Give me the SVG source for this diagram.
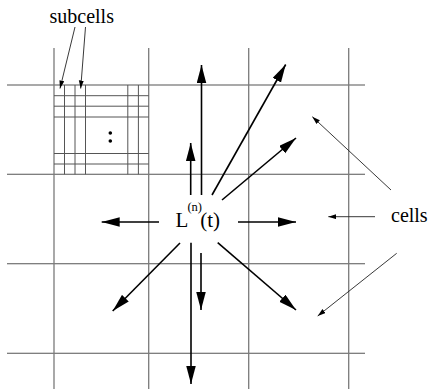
<svg xmlns="http://www.w3.org/2000/svg" width="428" height="389" viewBox="0 0 428 389">
<style>
.grid line{stroke:#555;stroke-width:1.1;fill:none}
.grid line.v{stroke:#7a7a7a;stroke-width:1.3}
.sub line{stroke:#555;stroke-width:1;fill:none}
text{font-family:'Liberation Serif',serif;fill:#000}
.big{stroke:#000;stroke-width:1.6;fill:none;marker-end:url(#bigHead)}
.thin{stroke:#222;stroke-width:0.9;fill:none;marker-end:url(#thinHead)}
</style>
<defs>
<marker id="bigHead" markerUnits="userSpaceOnUse" markerWidth="19" markerHeight="10" refX="18" refY="4.75" orient="auto">
<path d="M0,0 L18,4.75 L0,9.5 Z" fill="#000"/>
</marker>
<marker id="thinHead" markerUnits="userSpaceOnUse" markerWidth="9" markerHeight="6" refX="8" refY="2.5" orient="auto">
<path d="M0,0 L8,2.5 L0,5 Z" fill="#000"/>
</marker>
</defs>
<rect width="428" height="389" fill="#fff"/>
<g id="grid" class="grid">
<line x1="7" y1="85" x2="365" y2="85"/>
<line x1="7" y1="174.3" x2="365" y2="174.3"/>
<line x1="7" y1="263.7" x2="365" y2="263.7"/>
<line x1="7" y1="353.3" x2="365" y2="353.3"/>
<line class="v" x1="54" y1="48" x2="54" y2="389"/>
<line class="v" x1="148.7" y1="48" x2="148.7" y2="389"/>
<line class="v" x1="248.7" y1="48" x2="248.7" y2="389"/>
<line class="v" x1="348.7" y1="48" x2="348.7" y2="389"/>
</g>
<g id="subcell-grid" class="sub">
<line x1="64.5" y1="85" x2="64.5" y2="174.3"/>
<line x1="75" y1="85" x2="75" y2="174.3"/>
<line x1="85.5" y1="85" x2="85.5" y2="174.3"/>
<line x1="127.8" y1="85" x2="127.8" y2="174.3"/>
<line x1="138.4" y1="85" x2="138.4" y2="174.3"/>
<line x1="54" y1="95.7" x2="148.7" y2="95.7"/>
<line x1="54" y1="106.2" x2="148.7" y2="106.2"/>
<line x1="54" y1="117" x2="148.7" y2="117"/>
<line x1="54" y1="153.5" x2="148.7" y2="153.5"/>
<line x1="54" y1="164" x2="148.7" y2="164"/>
<circle cx="110.3" cy="133" r="1.8" fill="#000" stroke="none"/>
<circle cx="110.3" cy="141" r="1.8" fill="#000" stroke="none"/>
</g>
<g id="subcells-label">
<text x="49.5" y="22.5" font-size="20">subcells</text>
</g>
<g id="cells-label">
<text x="391" y="222" font-size="20">cells</text>
</g>
<g id="source">
<text x="175.5" y="227" font-size="21">L</text>
<text x="187.4" y="210.5" font-size="12.5">(n)</text>
<text x="200.3" y="227" font-size="21">(t)</text>
</g>
<g id="connectors">
<line class="big" x1="201.5" y1="195" x2="201.5" y2="65"/>
<line class="big" x1="190.7" y1="195" x2="190.7" y2="143"/>
<line class="big" x1="212" y1="195" x2="285.7" y2="64.5"/>
<line class="big" x1="222" y1="200" x2="296" y2="138"/>
<line class="big" x1="238" y1="222" x2="296" y2="222"/>
<line class="big" x1="217.7" y1="242.7" x2="296" y2="310"/>
<line class="big" x1="201" y1="253" x2="201" y2="310"/>
<line class="big" x1="191" y1="242.7" x2="191" y2="384"/>
<line class="big" x1="159" y1="222" x2="101.7" y2="222"/>
<line class="big" x1="180" y1="243" x2="112.7" y2="311"/>
<line class="thin" x1="391" y1="190" x2="312.3" y2="116.7"/>
<line class="thin" x1="375" y1="216.7" x2="328.3" y2="216.7"/>
<line class="thin" x1="396.7" y1="253.3" x2="317.7" y2="316"/>
<line class="thin" x1="75" y1="27" x2="60" y2="88.5"/>
<line class="thin" x1="85.5" y1="27" x2="80.7" y2="88.5"/>
</g>
</svg>
